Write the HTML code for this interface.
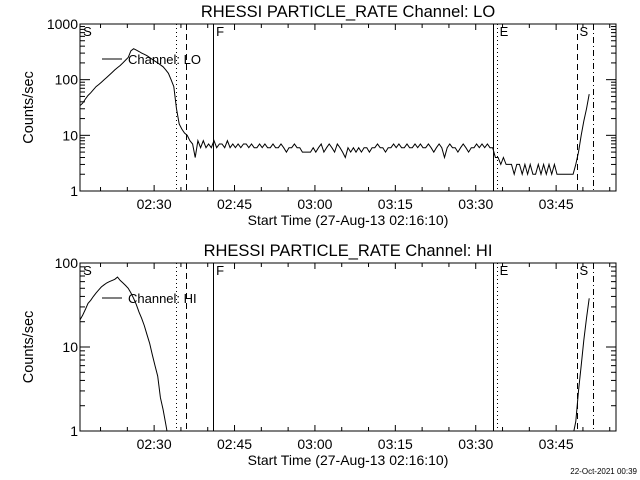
<!DOCTYPE html>
<html><head><meta charset="utf-8"><style>
html,body{margin:0;padding:0;background:#fff;}
svg{display:block;font-family:"Liberation Sans",sans-serif;}
</style></head><body>
<svg id="chart" width="640" height="480" viewBox="0 0 640 480">
<rect x="0" y="0" width="640" height="480" fill="#fff"/>
</svg>
<script>
// ---- data ----
var stepMin = 0.5; // sample cadence (minutes from 02:16:10)
var loValues = [34,38,45,52,58,66,75,82,90,100,110,122,135,150,165,180,200,225,250,
330,360,340,320,300,285,270,250,230,215,200,185,170,150,130,100,75,
30,16,13,11,10,8,7,4,8,
6,8,6,7,6,8,6,7,7,6,8,6,7,6,7,6,7,7,6,7,6,6,7,6,7,6,6,7,6,6,7,6,5,6,6,7,6,6,5,5,
5,5,6,5,6,7,5,6,7,6,5,7,6,5,4,6,5,6,5,6,5,6,6,5,6,6,7,6,6,5,6,6,7,6,7,6,
6,7,6,6,7,6,7,6,6,7,6,5,6,7,6,4,6,7,6,6,5,6,7,6,5,6,6,7,6,7,6,7,6,6,
4,4,3,4,3,3,3,2,3,3,2,3,2,3,2,2,3,2,3,2,3,2,3,2,2,2,2,2,2,2,
3,5,10,18,30,55];
var hiSeg1Start = 0;
var hiSeg1 = [21,24,28,33,36,40,44,48,52,55,58,60,62,64,68,62,58,54,50,44,38,32,26,22,18,14,11,8,6,4.5,2.5,1.8,1.2,0.8];
var hiSeg2Start = 92;
var hiSeg2 = [0.9,1.3,3,6,12,22,38];
var tickLabels = ["02:30","02:45","03:00","03:15","03:30","03:45"];
var tickMinutes = [13.83,28.83,43.83,58.83,73.83,88.83];
var markerMinutes = [18, 19.8, 24.9, 77, 77.8, 92.7, 95.7];
var markerStyles = ["dot","dash","solid","solid","dot","dash","dashdot"];
var markerLetters = [["S",0.4],["F",25.2],["E",78.1],["S",93]];

// ---- layout ----
var svg = document.getElementById('chart');
var NS = "http://www.w3.org/2000/svg";
var X0 = 80, X1 = 616, TMAX = 100;
function xs(m){ return X0 + (X1 - X0) * m / TMAX; }
function mk(tag, attrs, parent){ var e=document.createElementNS(NS,tag); for(var k in attrs) e.setAttribute(k,attrs[k]); (parent||svg).appendChild(e); return e; }

function panel(id, top, bottom, decades, title, chan, series, yLabels){
  var g = mk('g',{});
  
  
  function ys(v){ return bottom - (bottom - top) * Math.log10(v) / decades; }
  var t = mk('text',{x:348,y:top-7,'text-anchor':'middle','font-size':'16.5'},g); t.textContent = title;
  
  
  var clip = mk('clipPath',{id:'clip-'+id},g);
  mk('rect',{x:X0,y:top,width:X1-X0,height:bottom-top},clip);
  var frame = mk('rect',{x:X0,y:top,width:X1-X0,height:bottom-top,fill:'none',stroke:'#000','stroke-width':1},g);
  
  
  for (var m = 3.83; m < TMAX; m += 5) {
    var major = tickMinutes.some(function(tm){return Math.abs(tm-m)<0.1;});
    var L = major ? 6 : 4;
    mk('line',{x1:xs(m),x2:xs(m),y1:bottom,y2:bottom-L,stroke:'#000'},g);
    mk('line',{x1:xs(m),x2:xs(m),y1:top,y2:top+L,stroke:'#000'},g);
  }
  tickLabels.forEach(function(lb,i){
    var tx = mk('text',{x:xs(tickMinutes[i]),y:bottom+18,'text-anchor':'middle','font-size':'14'},g); tx.textContent = lb;
    
    
  });
  var xt = mk('text',{x:348,y:bottom+34,'text-anchor':'middle','font-size':'14'},g);
  xt.textContent = 'Start Time (27-Aug-13 02:16:10)';
  
  
  for (var d = 0; d < decades; d++) {
    for (var k = 1; k <= 9; k++) {
      var v = Math.pow(10,d)*k, y = ys(v), L = (k===1)?10:5;
      mk('line',{x1:X0,x2:X0+L,y1:y,y2:y,stroke:'#000'},g);
      mk('line',{x1:X1,x2:X1-L,y1:y,y2:y,stroke:'#000'},g);
    }
  }
  yLabels.forEach(function(lb,i){
    var ty = mk('text',{x:X0-2,y:ys(Math.pow(10,i))+5,'text-anchor':'end','font-size':'14'},g); ty.textContent = lb;
    
    
  });
  var yt = mk('text',{x:0,y:0,'text-anchor':'middle','font-size':'14.5',transform:'translate('+(X0-47)+','+((top+bottom)/2)+') rotate(-90)'},g);
  yt.textContent = 'Counts/sec';
  
  
  var dashes = {dot:'1,3',dash:'6,4',solid:'',dashdot:'6,3,1,3'};
  markerMinutes.forEach(function(mm,i){
    var ln = mk('line',{x1:Math.round(xs(mm))+0.5,x2:Math.round(xs(mm))+0.5,y1:top,y2:bottom,stroke:'#000','stroke-dasharray':dashes[markerStyles[i]]},g);
    
    
  });
  markerLetters.forEach(function(ml){
    var tl = mk('text',{x:xs(ml[1])+1,y:top+12,'font-size':'13'},g); tl.textContent = ml[0];
    
    
  });
  var cg = mk('g',{'clip-path':'url(#clip-'+id+')'},g);
  series.forEach(function(s){
    var pts = s.vals.map(function(v,i){ return xs(s.start + i*stepMin).toFixed(1)+','+ys(Math.max(v,0.3)).toFixed(1); }).join(' ');
    var pl = mk('polyline',{points:pts,fill:'none',stroke:'#000','stroke-width':1},cg);
    
    
  });
  var ly = top + 35;
  var lg = mk('g',{},g);
  
  
  mk('line',{x1:102,x2:122,y1:ly,y2:ly,stroke:'#000'},lg);
  var lt = mk('text',{x:128,y:ly+5,'font-size':'13'},lg); lt.textContent = 'Channel: ' + chan;
}

panel('lo', 24, 191, 3, 'RHESSI PARTICLE_RATE Channel: LO', 'LO', [{start:0, vals:loValues}], ['1','10','100','1000']);
panel('hi', 263, 431, 2, 'RHESSI PARTICLE_RATE Channel: HI', 'HI', [{start:hiSeg1Start, vals:hiSeg1},{start:hiSeg2Start, vals:hiSeg2}], ['1','10','100']);

var dt = mk('text',{x:637,y:474,'text-anchor':'end','font-size':'8'});
dt.textContent = '22-Oct-2021 00:39';


</script>
</body></html>
